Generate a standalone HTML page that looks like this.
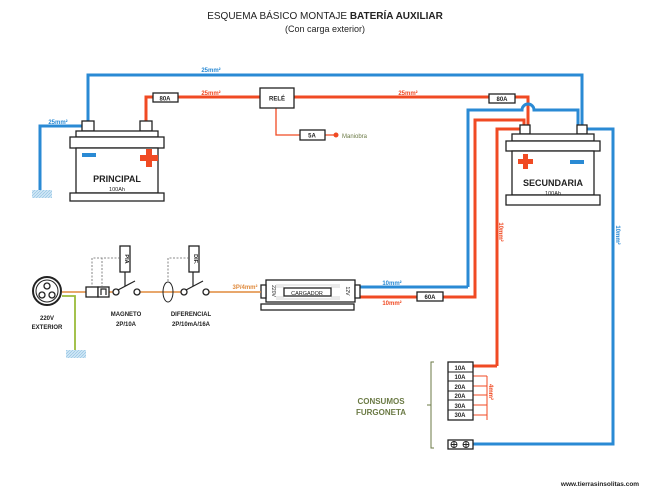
<!DOCTYPE html>
<html><head><meta charset="utf-8"><style>body{margin:0;background:#fff}svg{display:block}text{font-family:"Liberation Sans",sans-serif}</style></head><body>
<svg width="650" height="488" viewBox="0 0 650 488" xmlns="http://www.w3.org/2000/svg">
<defs><pattern id="h" width="3" height="3" patternUnits="userSpaceOnUse"><rect width="3" height="3" fill="#cfe6f5"/><path d="M0 3L3 0" stroke="#8bbfe0" stroke-width="0.6"/></pattern></defs>
<text x="325" y="19" font-size="10" text-anchor="middle" fill="#222">ESQUEMA BÁSICO MONTAJE <tspan font-weight="bold">BATERÍA AUXILIAR</tspan></text>
<text x="325" y="32" font-size="9" text-anchor="middle" fill="#222">(Con carga exterior)</text>
<g fill="none" stroke-width="3">
<path d="M88 122V75H582V125" stroke="#2a8ad4"/>
<path d="M40 190V126H82" stroke="#2a8ad4"/>
<path d="M146 122V97H260M294 97H528V125" stroke="#f04a23"/>
<path d="M468 287V110H522a6 6 0 0 1 12 0H578V125" stroke="#2a8ad4"/>
<path d="M355 287H468" stroke="#2a8ad4"/>
<path d="M355 297H475V120H524V125" stroke="#f04a23"/>
<path d="M497 366V129H520" stroke="#f04a23"/>
<path d="M473 366H497" stroke="#f04a23"/>
<path d="M587 129H613V444H473" stroke="#2a8ad4"/>
</g>
<path d="M276 108V135H300M325 135H335" stroke="#f04a23" stroke-width="1.3" fill="none"/>
<circle cx="336" cy="135" r="2.5" fill="#f04a23"/>
<text x="342" y="138" font-size="6" fill="#6b7a45">Maniobra</text>
<path d="M487 376V420M473 376H487M473 386H487M473 395H487M473 405H487M473 415H487" stroke="#f04a23" stroke-width="1" fill="none"/>
<rect x="32" y="190" width="20" height="8" fill="url(#h)"/>
<rect x="66" y="350" width="20" height="8" fill="url(#h)"/>
<g stroke="#222" stroke-width="1.3" fill="#fff">
<rect x="82" y="121" width="12" height="10"/><rect x="140" y="121" width="12" height="10"/>
<rect x="76" y="131" width="82" height="6"/><rect x="70" y="137" width="94" height="11"/>
<rect x="76" y="148" width="82" height="45"/><rect x="70" y="193" width="94" height="8"/>
<rect x="520" y="125" width="10" height="9"/><rect x="577" y="125" width="10" height="9"/>
<rect x="512" y="134" width="82" height="7"/><rect x="506" y="141" width="94" height="10"/>
<rect x="512" y="151" width="82" height="44"/><rect x="506" y="195" width="94" height="10"/>
<rect x="153" y="93" width="25" height="9"/><rect x="260" y="88" width="34" height="20"/>
<rect x="300" y="130" width="25" height="10"/><rect x="489" y="94" width="26" height="9"/>
<rect x="417" y="292" width="26" height="9"/>
<rect x="266" y="280" width="89" height="22"/><rect x="261" y="304" width="93" height="6"/>
<rect x="261" y="285" width="5" height="13"/><rect x="355" y="285" width="5" height="13"/>
<rect x="284" y="288" width="47" height="8"/>
<rect x="448" y="362" width="25" height="58"/><rect x="448" y="440" width="25" height="9"/>
</g>
<g stroke="#aaa" stroke-width="0.5"><path d="M276 285H340M276 299H340M276 287H284M276 297H284M331 287H340M331 297H340"/></g>
<g stroke="#222" stroke-width="1"><path d="M448 372H473M448 381H473M448 391H473M448 400H473M448 410H473"/></g>
<rect x="82" y="153" width="14" height="4" fill="#2a8ad4"/><rect x="570" y="160" width="14" height="4" fill="#2a8ad4"/>
<path d="M142 155h6v-6h6v6h6v6h-6v6h-6v-6h-6z" fill="#f04a23" transform="translate(-2,0)"/>
<path d="M518 159h5v-5h5v5h5v5h-5v5h-5v-5h-5z" fill="#f04a23"/>
<g font-weight="bold" text-anchor="middle" fill="#222">
<text x="117" y="182" font-size="9">PRINCIPAL</text><text x="553" y="186" font-size="9">SECUNDARIA</text>
<text x="165" y="100.5" font-size="6">80A</text><text x="277" y="100.5" font-size="6">RELÉ</text>
<text x="312" y="137.5" font-size="6">5A</text><text x="502" y="101" font-size="6">80A</text>
<text x="430" y="299" font-size="6">60A</text>
<g font-size="6"><text x="460" y="370">10A</text><text x="460" y="379">10A</text><text x="460" y="389">20A</text><text x="460" y="398">20A</text><text x="460" y="408">30A</text><text x="460" y="417">30A</text></g>
<g font-size="6"><text x="47" y="320">220V</text><text x="47" y="329">EXTERIOR</text><text x="126" y="316">MAGNETO</text><text x="126" y="326">2P/10A</text><text x="191" y="316">DIFERENCIAL</text><text x="191" y="326">2P/10mA/16A</text></g>
<text x="381" y="404" font-size="8" fill="#6b7a45">CONSUMOS</text><text x="381" y="415" font-size="8" fill="#6b7a45">FURGONETA</text>
<text x="600" y="486" font-size="6.5">www.tierrasinsolitas.com</text>
</g>
<g font-size="5.5" text-anchor="middle" fill="#222"><text x="117" y="191">100Ah</text><text x="553" y="195">100Ah</text><text x="307" y="295">CARGADOR</text></g>
<text x="272" y="291" font-size="5" transform="rotate(90 272 291)" text-anchor="middle" fill="#222">220V</text>
<text x="346" y="291" font-size="5" transform="rotate(90 346 291)" text-anchor="middle" fill="#222">12V</text>
<g font-size="6" font-weight="bold">
<text x="211" y="72" text-anchor="middle" fill="#2a8ad4">25mm²</text>
<text x="58" y="124" text-anchor="middle" fill="#2a8ad4">25mm²</text>
<text x="211" y="95" text-anchor="middle" fill="#f04a23">25mm²</text>
<text x="408" y="95" text-anchor="middle" fill="#f04a23">25mm²</text>
<text x="392" y="285" text-anchor="middle" fill="#2a8ad4">10mm²</text>
<text x="392" y="305" text-anchor="middle" fill="#f04a23">10mm²</text>
<text x="245" y="289" text-anchor="middle" fill="#e08a3c">3P/4mm²</text>
<text x="499" y="232" transform="rotate(90 499 232)" text-anchor="middle" fill="#f04a23">10mm²</text>
<text x="616" y="235" transform="rotate(90 616 235)" text-anchor="middle" fill="#2a8ad4">10mm²</text>
<text x="489" y="392" transform="rotate(90 489 392)" text-anchor="middle" fill="#f04a23">4mm²</text>
</g>
<path d="M62 292H86M109 292H113M140 292H182M209 292H261" stroke="#e08a3c" stroke-width="1.5" fill="none"/>
<path d="M62 296H75V350" stroke="#9bbb3b" stroke-width="1.8" fill="none"/>
<circle cx="47" cy="291" r="14" fill="#fff" stroke="#222" stroke-width="2"/>
<circle cx="47" cy="291" r="11" fill="none" stroke="#222" stroke-width="1"/>
<g fill="#fff" stroke="#222" stroke-width="1.3"><circle cx="42" cy="295" r="3"/><circle cx="52" cy="295" r="3"/><circle cx="47" cy="286" r="3"/>
<rect x="86" y="287" width="12" height="10"/><rect x="98" y="287" width="11" height="10"/>
<circle cx="116" cy="292" r="3"/><circle cx="137" cy="292" r="3"/><circle cx="184" cy="292" r="3"/><circle cx="206" cy="292" r="3"/>
<rect x="120" y="246" width="10" height="26"/><rect x="189" y="246" width="10" height="26"/>
<ellipse cx="168" cy="292" rx="5" ry="10" fill="none" stroke-width="1"/></g>
<path d="M118 290L135 281M125 286V272M186 290L203 281M193 286V272M101 295V289H106V295" stroke="#222" stroke-width="1.2" fill="none"/>
<path d="M120 258H92V287M120 258H102V287M189 258H168V282" stroke="#666" stroke-width="0.8" stroke-dasharray="2 1.5" fill="none"/>
<text x="125" y="259" font-size="5.5" font-weight="bold" transform="rotate(90 125 259)" text-anchor="middle" fill="#222">PIA</text>
<text x="194" y="259" font-size="5.5" font-weight="bold" transform="rotate(90 194 259)" text-anchor="middle" fill="#222">DIF.</text>
<path d="M434 362h-3v86h3M431 405h-4" stroke="#6b7a45" stroke-width="1" fill="none"/>
<g stroke="#222" stroke-width="0.9" fill="none"><circle cx="454" cy="444.5" r="3"/><circle cx="466" cy="444.5" r="3"/><path d="M451 444.5h6M454 441.5v6M463 444.5h6M466 441.5v6"/></g>
</svg>
</body></html>
